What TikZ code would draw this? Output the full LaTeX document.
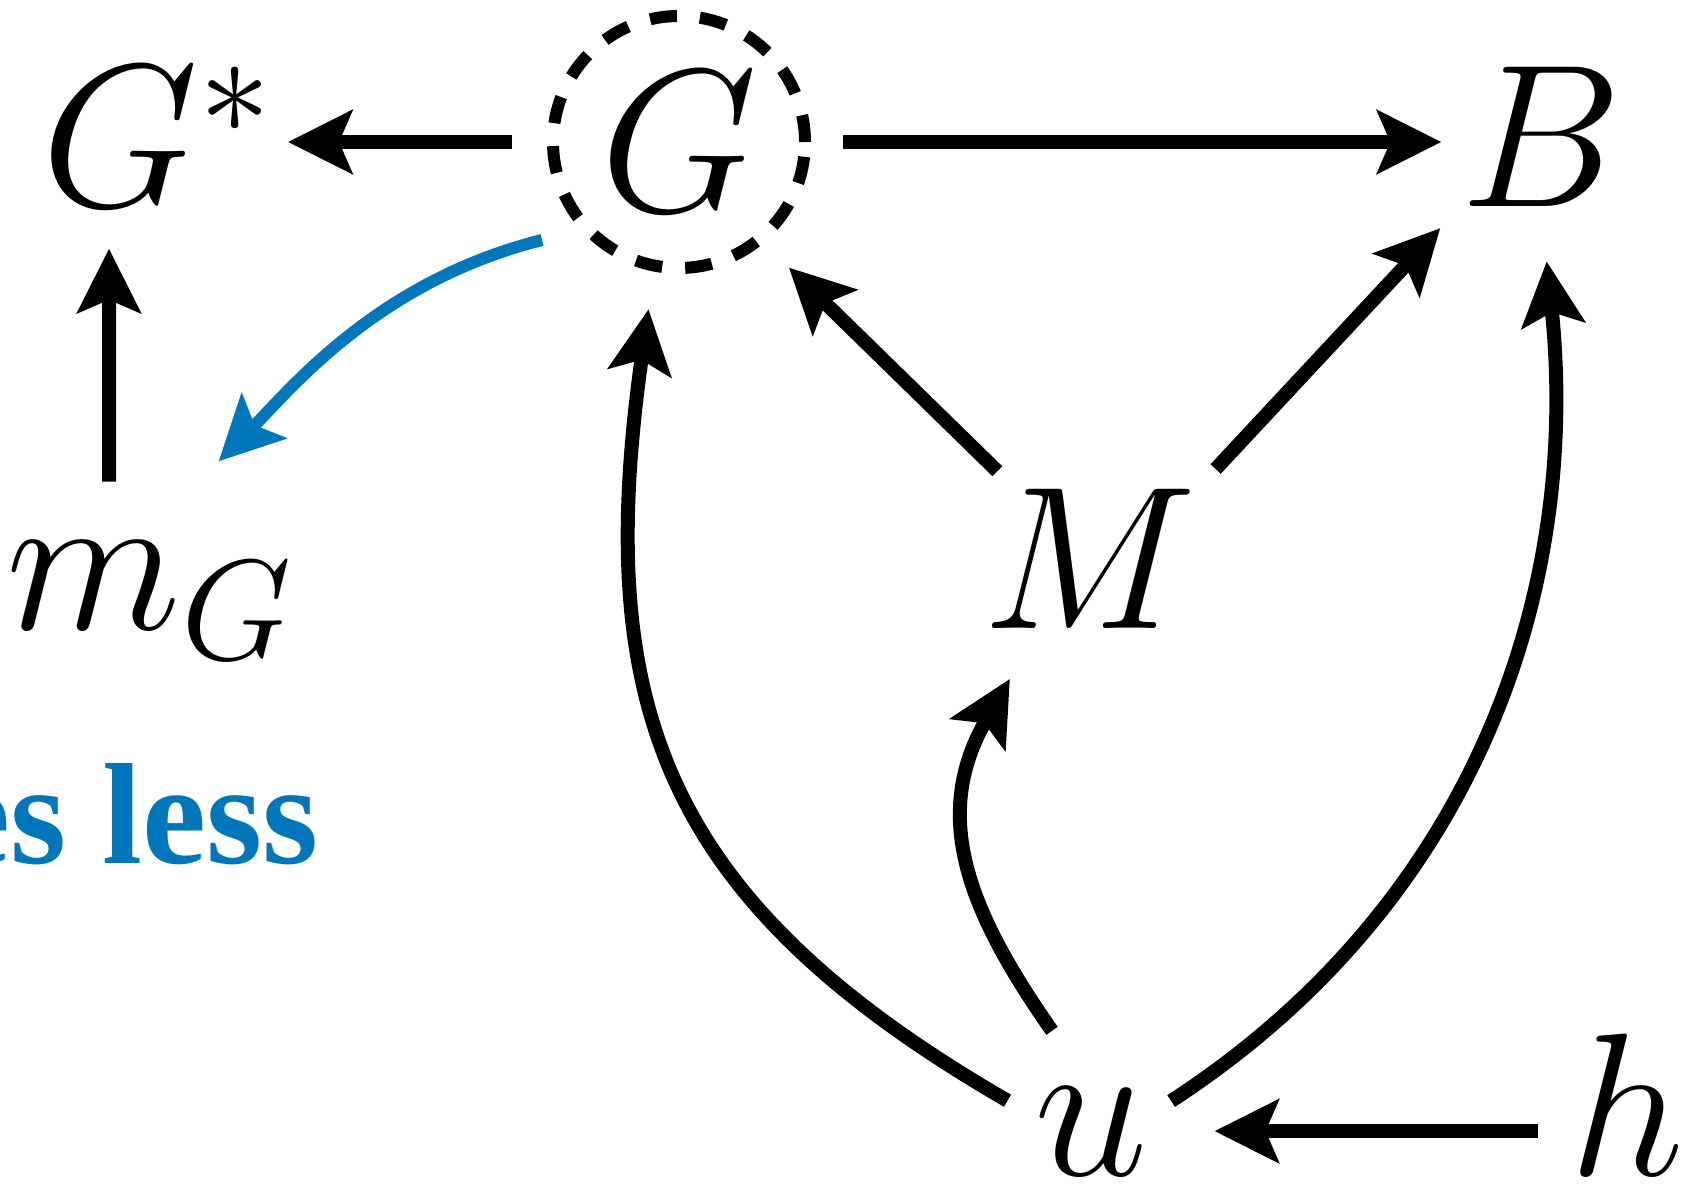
\RequirePackage{fix-cm}
\documentclass[tikz,border=0pt]{standalone}
\usepackage{fontspec}
\usepackage{amsmath}
\usepackage{tikz}
\usetikzlibrary{arrows.meta, positioning, calc}
\newfontfamily\notefont{Liberation Serif}
\definecolor{noteblue}{RGB}{0, 119, 187}

\begin{document}
\begin{tikzpicture}[
  var/.style={inner sep=0pt, anchor=base, font=\fontsize{58}{60}\selectfont},
  latent/.style={
    circle, draw, line width=1.2mm, dash pattern=on 2.7mm off 2.3mm,
    minimum size=2.52cm, inner sep=0pt, font=\fontsize{58}{60}\selectfont
  },
  arrow/.style={-{Stealth[length=6.4mm, width=6.3mm, inset=1.3mm]}, line width=1.4mm},
  bluearrow/.style={arrow, color=noteblue, line width=1.2mm},
  note/.style={anchor=base east, inner sep=0pt, text=noteblue,
    font=\notefont\bfseries\fontsize{41}{44}\selectfont}
]
  \useasboundingbox (0,0) rectangle (16.91,11.97);
  \clip (0,0) rectangle (16.91,11.97);

  % Variabili - riga superiore
  \node[var] (Gs) at (1.57, 9.90) {$G^*$};
  \node[latent] (G) at (6.79, 10.55) {$G$};
  \node[var] (B) at (15.41, 9.90) {$B$};

  % Variabili - centro e basso
  \node[var] (mG) at (1.50, 5.68) {$m_G$};
  \node[var] (M) at (10.90, 5.69) {$M$};
  \node[var] (u) at (10.91, 0.22) {$u$};
  \node[var] (h) at (16.27, 0.22) {$h$};
  \node[note] (less) at (3.19, 3.34) {es less};

  % Frecce dirette
  \draw[arrow, shorten <=3.5mm, shorten >=1.5mm] (G.west) -- (G.west -| Gs.east);
  \draw[arrow, shorten <=3.2mm, shorten >=1.8mm] (G.east) -- (G.east -| B.west);
  \draw[arrow, shorten <=5.9mm, shorten >=4.1mm] ([xshift=-4.1mm]mG.north) -- ([xshift=-4.8mm]Gs.south);
  \draw[arrow, shorten <=2.4mm, shorten >=3.5mm] (M.137) -- (G.-50);
  \draw[arrow, shorten <=2.6mm, shorten >=2.8mm] (M.north east) -- (B.south west);
  \draw[arrow, shorten <=3.1mm, shorten >=6.6mm] (u.east -| h.west) -- (u.east);

  % Frecce curve
  \draw[bluearrow, shorten <=4mm, shorten >=11.2mm] (G.222) to[out=194, in=45] (mG.100);
  \draw[arrow, shorten <=3mm, shorten >=3.8mm] (u.165) to[out=150, in=-98, looseness=1.2] (G.259);
  \draw[arrow, shorten <=6.8mm, shorten >=5.8mm] (u.north) to[out=125, in=-120, looseness=1.2] (M.234);
  \draw[arrow, shorten <=2.7mm, shorten >=5.4mm] (u.15) to[out=33, in=-84] (B.south);

\end{tikzpicture}
\end{document}
